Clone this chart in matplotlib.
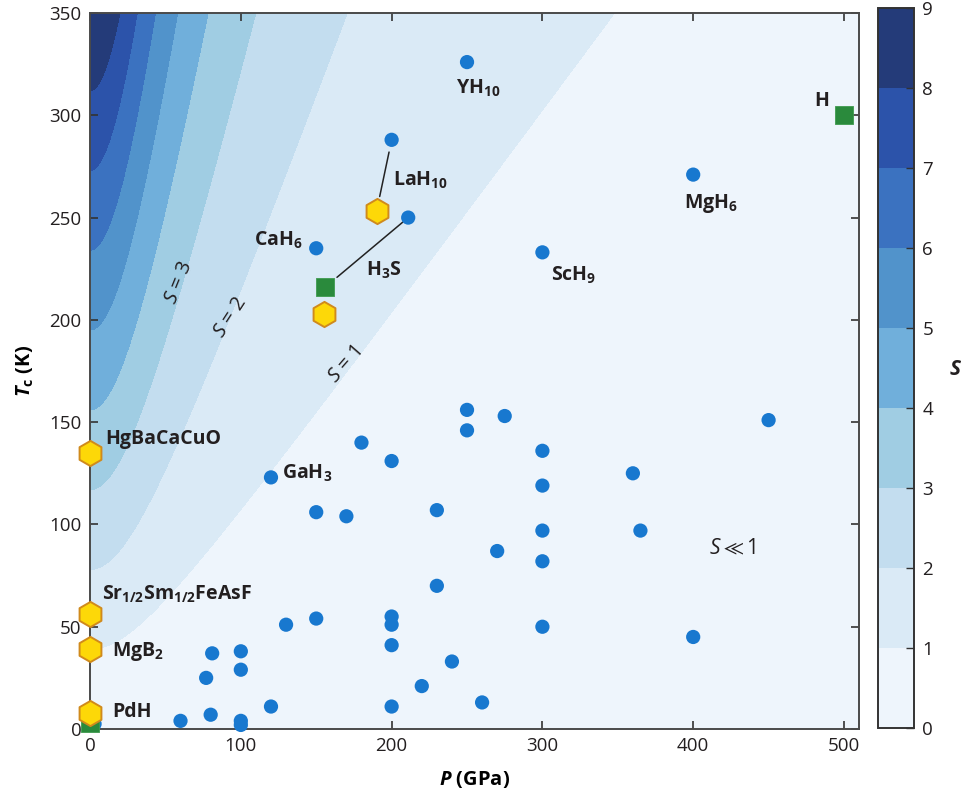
import numpy as np
import matplotlib
matplotlib.use("Agg")
import matplotlib.pyplot as plt
from matplotlib.colors import ListedColormap, BoundaryNorm

plt.rcParams['font.family'] = ['Open Sans', 'DejaVu Sans']
plt.rcParams['mathtext.default'] = 'regular'
plt.rcParams['mathtext.fontset'] = 'custom'
plt.rcParams['mathtext.rm'] = 'Open Sans'
plt.rcParams['mathtext.it'] = 'Open Sans:italic'
plt.rcParams['mathtext.bf'] = 'Open Sans:bold'
plt.rcParams['mathtext.bfit'] = 'Open Sans:bold:italic'

# ---- data -------------------------------------------------------------
# predicted hydrides (P in GPa, Tc in K)
pred_P = [250, 200, 211, 150, 300, 400, 450, 120,
          250, 250, 180, 200, 150, 170, 230, 275, 300, 360, 300, 300, 365, 270, 300,
          230, 130, 150, 200, 200, 200, 81, 100, 100, 77, 240, 220, 120, 200,
          80, 60, 100, 100, 260, 300, 400, 3]
pred_Tc = [326, 288, 250, 235, 233, 271, 151, 123,
           156, 146, 140, 131, 106, 104, 107, 153, 136, 125, 119, 97, 97, 87, 82,
           70, 51, 54, 55, 51, 41, 37, 38, 29, 25, 33, 21, 11, 11,
           7, 4, 4, 2, 13, 50, 45, 2.5]

# experimental hydrides
hyd_P = [156, 500, 0]
hyd_Tc = [216, 300, 3]

# experimental conventional/unconventional superconductors
exp_P = [190, 155, 0, 0, 0, 0]
exp_Tc = [253, 203, 135, 56, 39, 8]

# contour field parameter for S = Tc / sqrt(T0^2 + P^2)
T0 = 39.0
S_levels = list(range(10))
S_colors = ['#eef5fc', '#daeaf6', '#c3ddef', '#a0cde3', '#70afdb',
            '#5193cb', '#3b72c0', '#2c53aa', '#243b79']

labels = [
    ('YH$_{10}$', 243, 313),
    ('LaH$_{10}$', 201, 268),
    ('CaH$_6$', 109, 239),
    ('H$_3$S', 183, 224),
    ('ScH$_9$', 306, 222),
    ('MgH$_6$', 394, 257),
    ('H', 480, 307),
    ('GaH$_3$', 127, 125),
    ('HgBaCaCuO', 10, 142),
    ('Sr$_{1/2}$Sm$_{1/2}$FeAsF', 8, 66),
    ('MgB$_2$', 14.5, 38),
    ('PdH', 14.5, 8.5),
]

# ---- figure -----------------------------------------------------------
fig = plt.figure(figsize=(9.62, 7.92), dpi=100)
ax = fig.add_axes([0.0936, 0.0795, 0.7994, 0.9041])
cax = fig.add_axes([0.9127, 0.0808, 0.0374, 0.9091])

P = np.linspace(0, 510, 600)
T = np.linspace(0, 350, 500)
PP, TT = np.meshgrid(P, T)
S = TT / np.sqrt(T0 ** 2 + PP ** 2)

cmap = ListedColormap(S_colors)
norm = BoundaryNorm(S_levels, cmap.N)
cs = ax.contourf(PP, TT, S, levels=S_levels, cmap=cmap, norm=norm)

# connectors between prediction and measurement
ax.annotate('', xy=(190, 253), xytext=(200, 288),
            arrowprops=dict(arrowstyle='-', color='#222222', lw=1.1,
                            shrinkA=9, shrinkB=11))
ax.annotate('', xy=(156, 216), xytext=(211, 250),
            arrowprops=dict(arrowstyle='-', color='#222222', lw=1.1,
                            shrinkA=5, shrinkB=11))

ax.scatter(pred_P, pred_Tc, s=105, c='#1878cf', edgecolors='none', zorder=3,
           clip_on=False)
ax.scatter(hyd_P, hyd_Tc, s=150, marker='s', c='#2a8a3c', edgecolors='#3e9a4e',
           linewidths=0.6, zorder=4, clip_on=False)
ax.scatter(exp_P, exp_Tc, s=330, marker='h', c='#fdd808', edgecolors='#d08a1c',
           linewidths=1.4, zorder=5, clip_on=False)

for txt, x, y in labels:
    ax.text(x, y, txt, fontsize=14, fontweight='bold', color='#231f20',
            ha='left', va='center', zorder=6)

# contour annotations
for txt, x, y, rot in [('$\\mathit{S}$ = 3', 59, 218, 68),
                       ('$\\mathit{S}$ = 2', 93, 201, 57),
                       ('$\\mathit{S}$ = 1', 169, 178, 49)]:
    ax.text(x, y, txt, rotation=rot, fontsize=14.5, color='#231f20',
            ha='center', va='center')
ax.text(426, 88, '$\\mathit{S} \\ll 1$', fontsize=15, color='#231f20',
        ha='center', va='center')

ax.set_xlim(0, 510)
ax.set_ylim(0, 350)
ax.set_xticks([0, 100, 200, 300, 400, 500])
ax.set_yticks([0, 50, 100, 150, 200, 250, 300, 350])
ax.tick_params(direction='in', length=6, width=1.2, color='#333333',
               top=True, right=True, labelsize=13.5, labelcolor='#231f20', pad=6)
for sp in ax.spines.values():
    sp.set_color('#4a4a4a')
    sp.set_linewidth(1.4)

ax.set_xlabel('$\\mathbfit{P}$ (GPa)', fontsize=14.5, fontweight='bold',
              labelpad=10)
ax.set_ylabel('$\\mathbfit{T}_\\mathbf{c}$ (K)', fontsize=14.5, fontweight='bold',
              labelpad=10)

cb = fig.colorbar(cs, cax=cax, ticks=S_levels)
cb.outline.set_edgecolor('#333333')
cb.outline.set_linewidth(1.4)
cax.tick_params(direction='in', length=6, width=1.0, color='#333333',
                labelsize=13.5, labelcolor='#231f20', pad=6)
fig.text(0.993, 0.533, 'S', fontsize=15, fontweight='bold', style='italic',
         ha='center', va='center', color='#231f20')

fig.savefig('out.png', dpi=100)
